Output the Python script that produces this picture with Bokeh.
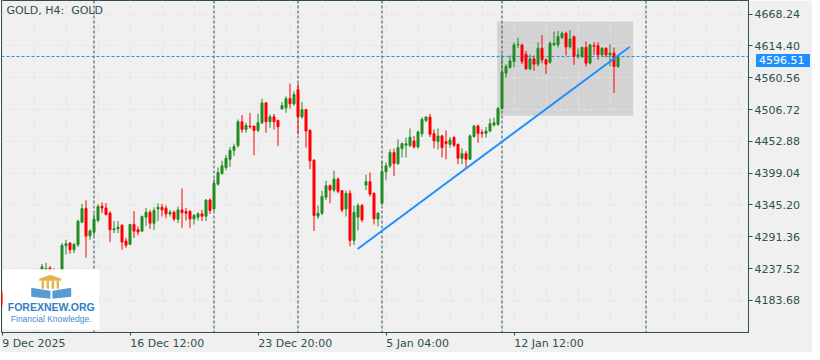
from bokeh.plotting import figure
from bokeh.layouts import column
from bokeh.models import (ColumnDataSource, Range1d, FixedTicker, PrintfTickFormatter,
                          Span, Label, BoxAnnotation, PolyAnnotation, Div)
from bokeh.embed import file_html
from bokeh.resources import INLINE

# ---------------- data ----------------
opens = [4194.9, 4178.1, 4192.0, 4205.0, 4196.0, 4214.0, 4222.0, 4210.0, 4220.0, 4230.0,
         4226.0, 4234.9, 4238.3, 4234.9, 4222.0, 4228.0, 4276.2, 4280.7, 4269.5, 4277.9,
         4316.1, 4339.1, 4293.1, 4299.3, 4319.0, 4343.0, 4340.1, 4331.3, 4303.2, 4304.9,
         4310.6, 4284.1, 4278.5, 4312.2, 4303.2, 4301.0, 4324.5, 4332.9, 4314.4, 4338.5,
         4341.3, 4339.6, 4330.1, 4332.9, 4321.1, 4336.8, 4334.1, 4334.1, 4321.6, 4324.5,
         4330.1, 4326.2, 4353.6, 4338.5, 4380.5, 4398.5, 4408.6, 4422.6, 4437.7, 4445.6,
         4486.0, 4473.1, 4478.8, 4478.8, 4471.4, 4484.3, 4518.0, 4486.0, 4494.4, 4488.2,
         4507.9, 4509.6, 4525.2, 4516.3, 4540.4, 4494.4, 4506.7, 4471.4, 4420.9, 4326.2,
         4331.3, 4358.2, 4377.8, 4370.4, 4389.0, 4369.4, 4338.5, 4364.9, 4285.3, 4324.5,
         4344.2, 4378.9, 4384.6, 4364.9, 4321.6, 4348.0, 4401.4, 4411.4, 4433.9, 4415.4,
         4440.6, 4446.2, 4446.0, 4453.5, 4443.5, 4465.8, 4488.2, 4493.9, 4465.8, 4452.4,
         4462.0, 4452.4, 4447.9, 4459.1, 4447.9, 4424.3, 4432.2, 4422.6, 4461.3, 4478.8,
         4468.0, 4466.3, 4470.4, 4480.5, 4481.5, 4508.4, 4568.5, 4578.1, 4588.2, 4616.1,
         4616.1, 4600.4, 4575.7, 4592.5, 4583.6, 4610.5, 4590.9, 4587.0, 4616.1, 4616.1,
         4628.5, 4635.8, 4612.7, 4630.2, 4596.6, 4596.6, 4611.7, 4585.3, 4615.1, 4615.1,
         4599.3, 4610.5, 4599.3, 4602.1, 4579.7]
highs = [4199.9, 4198.0, 4212.0, 4210.0, 4220.0, 4228.0, 4226.0, 4226.0, 4236.0, 4236.0,
         4245.4, 4247.1, 4242.0, 4238.0, 4234.0, 4280.7, 4286.3, 4282.4, 4280.7, 4320.0,
         4346.9, 4353.1, 4304.4, 4330.1, 4346.4, 4349.7, 4348.6, 4334.7, 4317.8, 4317.8,
         4313.2, 4289.6, 4313.2, 4334.7, 4308.9, 4327.4, 4340.1, 4336.8, 4341.3, 4348.0,
         4346.9, 4344.2, 4336.8, 4335.8, 4342.5, 4373.3, 4340.1, 4336.8, 4330.1, 4332.9,
         4336.8, 4354.8, 4356.5, 4389.0, 4408.6, 4419.9, 4430.0, 4443.5, 4449.0, 4489.9,
         4497.3, 4484.3, 4501.2, 4479.3, 4499.5, 4525.2, 4519.5, 4498.4, 4499.5, 4489.9,
         4519.7, 4529.3, 4550.5, 4537.7, 4550.5, 4519.7, 4507.9, 4473.1, 4422.6, 4344.2,
         4369.4, 4386.3, 4380.0, 4403.1, 4391.8, 4370.4, 4369.4, 4370.4, 4344.2, 4348.0,
         4346.9, 4396.4, 4400.2, 4366.6, 4333.0, 4419.9, 4417.0, 4439.4, 4440.6, 4456.3,
         4450.7, 4459.1, 4474.8, 4462.0, 4471.4, 4493.9, 4495.6, 4499.5, 4473.1, 4474.8,
         4464.0, 4471.4, 4460.3, 4462.0, 4449.0, 4441.1, 4436.7, 4464.7, 4480.5, 4481.5,
         4473.1, 4477.1, 4491.6, 4492.8, 4510.8, 4600.4, 4583.6, 4598.3, 4620.6, 4628.5,
         4618.0, 4606.0, 4600.4, 4598.3, 4620.6, 4632.9, 4593.0, 4621.8, 4638.6, 4639.6,
         4638.6, 4638.6, 4641.3, 4632.0, 4610.5, 4613.4, 4621.8, 4617.3, 4620.6, 4620.6,
         4611.7, 4611.7, 4617.3, 4611.7, 4597.5]
lows = [4173.1, 4172.0, 4186.0, 4190.0, 4192.0, 4208.0, 4204.0, 4205.0, 4215.0, 4218.0,
        4220.0, 4223.6, 4226.0, 4215.0, 4214.0, 4222.0, 4261.7, 4262.7, 4263.9, 4274.0,
        4314.4, 4256.0, 4286.3, 4293.1, 4316.1, 4331.3, 4327.4, 4282.4, 4297.6, 4297.6,
        4269.5, 4272.8, 4277.4, 4289.6, 4293.8, 4299.3, 4309.4, 4304.9, 4303.2, 4317.8,
        4325.7, 4322.8, 4325.7, 4317.8, 4314.4, 4306.5, 4319.0, 4306.5, 4312.2, 4319.0,
        4317.8, 4317.8, 4330.1, 4335.8, 4377.8, 4396.4, 4404.1, 4409.8, 4428.3, 4442.3,
        4467.5, 4467.5, 4474.3, 4429.3, 4469.0, 4482.0, 4467.5, 4475.9, 4473.1, 4445.1,
        4506.2, 4501.2, 4508.4, 4513.0, 4464.7, 4491.1, 4442.3, 4405.8, 4301.0, 4321.6,
        4328.0, 4353.6, 4348.0, 4366.6, 4364.9, 4332.9, 4325.7, 4275.2, 4277.4, 4302.1,
        4316.0, 4370.4, 4359.3, 4312.2, 4308.9, 4345.0, 4387.3, 4408.0, 4394.0, 4413.0,
        4425.5, 4425.5, 4443.0, 4440.6, 4440.6, 4460.3, 4485.0, 4460.3, 4441.1, 4439.4,
        4425.5, 4422.6, 4442.3, 4443.0, 4414.2, 4414.2, 4407.5, 4422.0, 4459.0, 4450.7,
        4459.1, 4459.1, 4468.0, 4478.0, 4479.0, 4506.7, 4560.1, 4576.0, 4578.1, 4610.5,
        4583.6, 4574.0, 4573.0, 4572.3, 4580.0, 4585.3, 4566.8, 4584.0, 4614.0, 4612.0,
        4626.0, 4598.3, 4610.0, 4582.4, 4592.5, 4594.0, 4579.7, 4583.0, 4599.3, 4590.9,
        4596.0, 4594.9, 4579.7, 4534.8, 4577.0]
closes = [4178.1, 4192.0, 4205.0, 4196.0, 4214.0, 4222.0, 4210.0, 4220.0, 4230.0, 4224.0,
          4240.4, 4237.6, 4234.9, 4222.0, 4228.0, 4276.9, 4279.6, 4269.5, 4278.5, 4317.8,
          4339.1, 4292.6, 4301.0, 4321.1, 4342.5, 4340.1, 4329.1, 4303.2, 4304.9, 4307.7,
          4282.4, 4276.9, 4312.2, 4301.0, 4299.3, 4325.7, 4332.9, 4314.4, 4335.8, 4341.3,
          4336.8, 4330.1, 4332.9, 4321.6, 4336.8, 4332.4, 4331.3, 4321.6, 4327.4, 4330.1,
          4326.2, 4353.6, 4335.8, 4381.7, 4400.2, 4411.4, 4424.3, 4437.7, 4444.0, 4486.0,
          4473.1, 4479.8, 4477.6, 4471.4, 4484.3, 4518.0, 4486.0, 4494.4, 4486.0, 4477.6,
          4513.5, 4525.2, 4516.3, 4532.0, 4494.4, 4506.7, 4470.4, 4419.9, 4327.4, 4331.3,
          4359.9, 4377.8, 4370.4, 4389.0, 4368.3, 4336.8, 4364.9, 4285.3, 4332.9, 4344.2,
          4320.0, 4384.6, 4363.7, 4321.6, 4331.3, 4401.9, 4411.4, 4433.9, 4415.4, 4442.3,
          4449.0, 4449.0, 4460.0, 4443.5, 4468.7, 4489.9, 4493.9, 4464.7, 4453.6, 4462.0,
          4442.3, 4449.0, 4455.2, 4446.2, 4424.3, 4432.2, 4422.6, 4462.0, 4478.8, 4466.3,
          4466.3, 4470.4, 4482.7, 4484.3, 4508.4, 4570.2, 4579.7, 4589.2, 4616.1, 4617.0,
          4588.2, 4575.7, 4592.5, 4583.6, 4610.5, 4590.9, 4583.6, 4619.0, 4619.0, 4630.2,
          4635.8, 4612.7, 4626.2, 4596.6, 4599.3, 4611.7, 4585.3, 4616.1, 4613.9, 4599.3,
          4610.5, 4599.3, 4602.1, 4579.7, 4596.51]

x_tick_positions = [0, 32, 64, 96, 128]
x_tick_labels = ["9 Dec 2025", "16 Dec 12:00", "23 Dec 20:00", "5 Jan 04:00", "12 Jan 12:00"]
price_ticks = [4183.68, 4237.52, 4291.36, 4345.20, 4399.04, 4452.88, 4506.72, 4560.56, 4614.40, 4668.24]
week_separators = [23, 53, 74, 95, 125, 161]
last_price = 4596.51
zone_x = [123.8, 157.8]
zone_y = [4496.1, 4655.96]
trend_x = [88.9, 156.9]
trend_y = [4270.7, 4612.7]

# ---------------- styling ----------------
UP = "#228b22"
DOWN = "#ff0000"
INK = "#2f4f4f"
BLUE = "#1e90ff"
BG = "#f0f0f0"
FONT = "DejaVu Sans"
# half widths (in bar units) of the date labels, so they start at their tick
label_half_widths = [7.95, 9.3, 9.3, 7.9, 8.75]

idx = list(range(len(opens)))
colors = [UP if c >= o else DOWN for o, c in zip(opens, closes)]
src = ColumnDataSource(dict(
    x=idx, open=opens, high=highs, low=lows, close=closes,
    top=[max(o, c) for o, c in zip(opens, closes)],
    bottom=[min(o, c) for o, c in zip(opens, closes)],
    color=colors))

Y0, Y1 = 4129.35, 4691.3
FRAME_H = 334
p = figure(width=812, height=352,
           x_range=Range1d(-0.125, 186.625), y_range=Range1d(Y0, Y1),
           y_axis_location="right", output_backend="svg", toolbar_location=None,
           min_border_left=1, min_border_top=0, min_border_right=64, min_border_bottom=18,
           background_fill_color=BG, border_fill_color=BG,
           outline_line_color=INK, outline_line_width=1)

# grid
p.xgrid.ticker = FixedTicker(ticks=list(range(0, 187, 8)))
p.ygrid.ticker = FixedTicker(ticks=price_ticks)
for g in (p.xgrid, p.ygrid):
    g.grid_line_color = "#e3e3e3"
    g.grid_line_dash = "3 3"
    g.grid_line_width = 1

# gray zone under the grid
p.quad(left=zone_x[0], right=zone_x[1], bottom=zone_y[0], top=zone_y[1],
       fill_color="#d3d3d3", line_color=None, level="image")

# separators and last-price line
for s in week_separators:
    p.add_layout(Span(location=s, dimension="height", line_color=INK,
                      line_dash="3 2", line_width=1, level="underlay"))
p.add_layout(Span(location=last_price, dimension="width", line_color=BLUE,
                  line_dash="3 2", line_width=1, level="underlay"))

# candles
p.segment(x0="x", y0="low", x1="x", y1="high", source=src, line_color="color", line_width=1)
p.vbar(x="x", top="top", bottom="bottom", width=0.5, source=src,
       fill_color="color", line_color="color", line_width=1)

# trend line
p.line(trend_x, trend_y, line_color=BLUE, line_width=2)

# axes
ya = p.yaxis[0]
ya.ticker = FixedTicker(ticks=price_ticks)
ya.formatter = PrintfTickFormatter(format="%.2f")
xa = p.xaxis[0]
label_centers = [t + h for t, h in zip(x_tick_positions, label_half_widths)]
xa.ticker = FixedTicker(ticks=label_centers, minor_ticks=x_tick_positions)
xa.major_label_overrides = {k: v for k, v in zip(label_centers, x_tick_labels)}
for ax in (xa, ya):
    ax.axis_line_color = INK
    ax.major_tick_line_color = INK
    ax.major_tick_out = 4
    ax.major_tick_in = 0
    ax.minor_tick_line_color = None
    ax.major_label_text_color = INK
    ax.major_label_text_font = FONT
    ax.major_label_text_font_size = "11px"
xa.major_tick_line_color = None
xa.major_tick_out = 3
xa.minor_tick_line_color = INK
xa.minor_tick_out = 3
xa.minor_tick_in = 0
xa.major_label_standoff = 1
ya.major_label_standoff = 2

# title
p.add_layout(Label(x=1.1, y=4673.6, text="GOLD, H4:\u00a0 GOLD", text_font=FONT,
                   text_font_size="11px", text_color=INK, text_baseline="middle",
                   text_align="left"))

# logo
p.add_layout(BoxAnnotation(left=0.15, right=24.3, top=4236.5, bottom=4134.4,
                           fill_color="white", fill_alpha=1, line_color=None))
GOLDC = "#e2b44a"
p.add_layout(PolyAnnotation(xs=[9.3, 12.1, 14.8, 14.8, 9.3],
                            ys=[4220.2, 4226.9, 4220.2, 4217.0, 4217.0],
                            fill_color=GOLDC, fill_alpha=1, line_color=None))
for cx in [10.2, 11.45, 12.7, 13.95]:
    p.add_layout(BoxAnnotation(left=cx - 0.3, right=cx + 0.3, top=4216.8, bottom=4203.4,
                               fill_color=GOLDC, fill_alpha=1, line_color=None))
p.add_layout(PolyAnnotation(xs=[7.3, 12.1, 12.1, 7.3], ys=[4205.1, 4200.0, 4186.5, 4189.9],
                            fill_color="#5b9bd5", fill_alpha=1, line_color=None))
p.add_layout(PolyAnnotation(xs=[12.6, 17.3, 17.3, 12.6], ys=[4200.0, 4205.1, 4189.9, 4186.5],
                            fill_color="#5b9bd5", fill_alpha=1, line_color=None))
p.add_layout(Label(x=12.3, y=4173.1, text="FOREXNEW.ORG", text_font="Liberation Sans",
                   text_font_style="bold", text_font_size="10.5px", text_color="#2f7fc1",
                   text_align="center", text_baseline="middle"))
p.add_layout(Label(x=12.3, y=4152.1, text="Financial Knowledge.", text_font="Liberation Sans",
                   text_font_size="8.5px", text_color="#3f8ad0",
                   text_align="center", text_baseline="middle"))

# price tag over the axis (canvas annotations are clipped to the frame, so use HTML)
tag_top = round((Y1 - last_price) / (Y1 - Y0) * FRAME_H) - 7
tag = Div(text=f"{last_price:.2f}", width=54, height=13,
          styles={"position": "absolute", "left": "751px", "top": f"{tag_top}px",
                  "z-index": "10", "background-color": BLUE, "color": "white",
                  "font-family": FONT, "font-size": "11px", "line-height": "13px",
                  "padding": "0px 0px 0px 3px", "box-sizing": "border-box",
                  "overflow": "hidden", "white-space": "nowrap"})

open("out.html", "w").write(file_html(column(p, tag, spacing=0), INLINE))
